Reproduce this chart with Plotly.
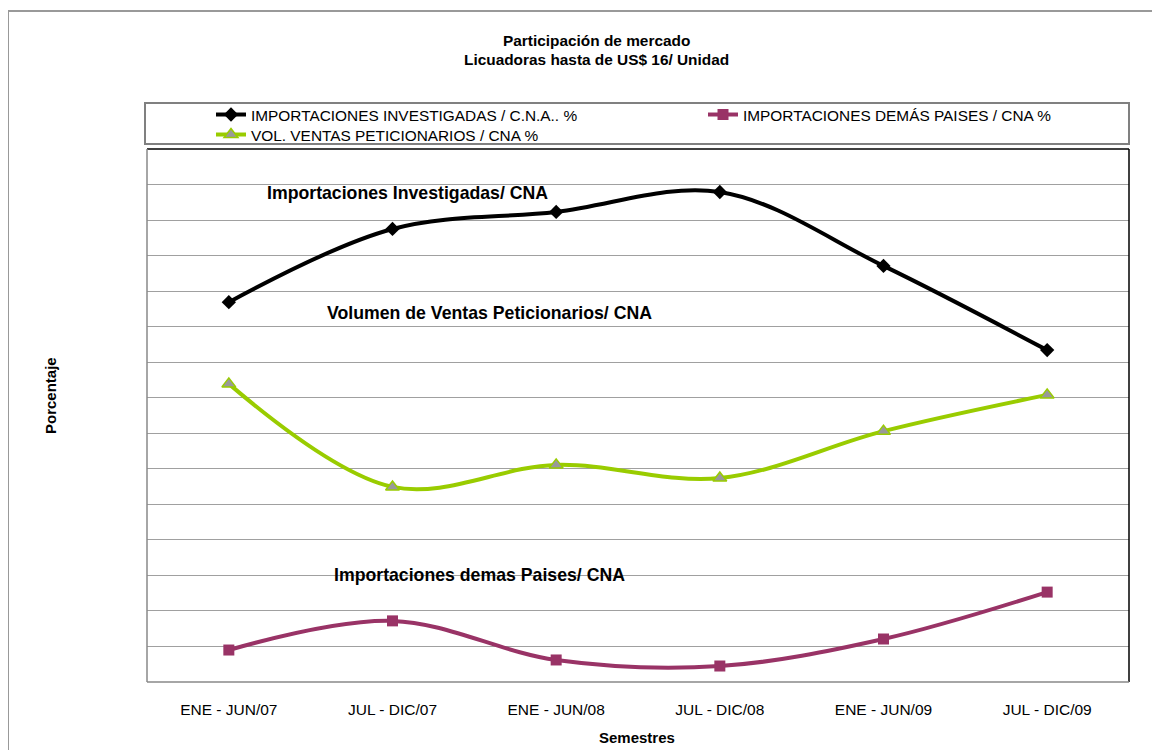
import plotly.graph_objects as go

categories = ["ENE - JUN/07", "JUL - DIC/07", "ENE - JUN/08", "JUL - DIC/08", "ENE - JUN/09", "JUL - DIC/09"]
imp_investigadas = [10.69, 12.75, 13.23, 13.79, 11.71, 9.34]
imp_demas = [0.90, 1.72, 0.62, 0.45, 1.21, 2.53]
vol_ventas = [8.39, 5.49, 6.11, 5.74, 7.06, 8.08]

series_names = [
    "IMPORTACIONES INVESTIGADAS / C.N.A.. %",
    "IMPORTACIONES DEMÁS PAISES / CNA %",
    "VOL. VENTAS PETICIONARIOS / CNA %",
]

OFF = 8  # page body margin
W, H = 1160 - OFF, 750 - OFF
L, R, T, B = 147, 1129, 149, 682  # plot area in window pixels
PW, PH = R - L, B - T

def px(x):
    return (x - L) / PW

def py(y):
    return (B - y) / PH

fig = go.Figure()
fig.add_trace(go.Scatter(
    x=categories, y=imp_investigadas, name=series_names[0], mode="lines+markers",
    line=dict(color="#000000", width=4, shape="spline", smoothing=1),
    marker=dict(symbol="diamond", size=11, color="#000000"),
    legend="legend",
))
fig.add_trace(go.Scatter(
    x=categories, y=imp_demas, name=series_names[1], mode="lines+markers",
    line=dict(color="#993366", width=4, shape="spline", smoothing=1),
    marker=dict(symbol="square", size=11, color="#993366"),
    legend="legend",
))
fig.add_trace(go.Scatter(
    x=categories, y=vol_ventas, name=series_names[2], mode="lines+markers",
    line=dict(color="#99CC00", width=4, shape="spline", smoothing=1),
    marker=dict(symbol="triangle-up", size=12, color="#999999", line=dict(color="#99CC00", width=1.5)),
    legend="legend2",
))

shapes = [
    dict(type="rect", xref="paper", yref="paper", x0=px(8), x1=px(1157), y0=py(770), y1=py(11),
         line=dict(color="#999999", width=2), layer="below"),
    dict(type="rect", xref="paper", yref="paper", x0=px(145), x1=px(1129), y0=py(144), y1=py(103),
         line=dict(color="#808080", width=2), layer="below"),
    dict(type="line", xref="paper", yref="paper", x0=0, x1=1, y0=1, y1=1, line=dict(color="#000000", width=1.5)),
    dict(type="line", xref="paper", yref="paper", x0=1, x1=1, y0=0, y1=1, line=dict(color="#000000", width=1.5)),
    dict(type="line", xref="paper", yref="paper", x0=0, x1=0, y0=0, y1=1, line=dict(color="#888888", width=1.5)),
    dict(type="line", xref="paper", yref="paper", x0=0, x1=1, y0=0, y1=0, line=dict(color="#888888", width=1.5)),
]

fam = "Liberation Sans"

def ann(text, x, y, size, **kw):
    return dict(text=text, x=px(x), y=py(y), xref="paper", yref="paper", xanchor="center",
                yanchor="middle", showarrow=False, font=dict(family=fam, size=size, color="#000"), **kw)

annotations = [
    ann("<b>Participación de mercado</b>", 596, 40, 15.4),
    ann("<b>Licuadoras hasta de US$ 16/ Unidad</b>", 596, 60, 15.4),
    ann("<b>Importaciones Investigadas/ CNA</b>", 407, 193, 17.7),
    ann("<b>Volumen de Ventas Peticionarios/ CNA</b>", 489, 313, 17.7),
    ann("<b>Importaciones demas Paises/ CNA</b>", 479, 575, 17.7),
    ann("<b>Semestres</b>", 637, 737, 15),
    ann("<b>Porcentaje</b>", 50, 396, 15, textangle=-90),
]

leg_common = dict(orientation="h", xanchor="left", yanchor="top", entrywidth=447,
                  entrywidthmode="pixels", bgcolor="rgba(0,0,0,0)", borderwidth=0,
                  font=dict(family=fam, size=15.4, color="#000"), itemclick=False)

fig.update_layout(
    width=W, height=H,
    margin=dict(l=L - OFF, r=W - (R - OFF), t=T - OFF, b=H - (B - OFF), autoexpand=False),
    paper_bgcolor="#ffffff", plot_bgcolor="#ffffff",
    font=dict(family=fam, color="#000"),
    showlegend=True,
    legend=dict(x=px(211), y=py(98), **leg_common),
    legend2=dict(x=px(211), y=py(118), **leg_common),
    xaxis=dict(type="category", range=[-0.5, 5.5], showgrid=False, zeroline=False, showline=False,
               ticks="", tickfont=dict(family=fam, size=15.5, color="#000"), ticklabelstandoff=16),
    yaxis=dict(range=[0, 15], dtick=1, showgrid=True, gridcolor="#a0a0a0", gridwidth=1, zeroline=False,
               showline=False, showticklabels=False, ticks=""),
    shapes=shapes,
    annotations=annotations,
)

fig.write_html("out.html")
